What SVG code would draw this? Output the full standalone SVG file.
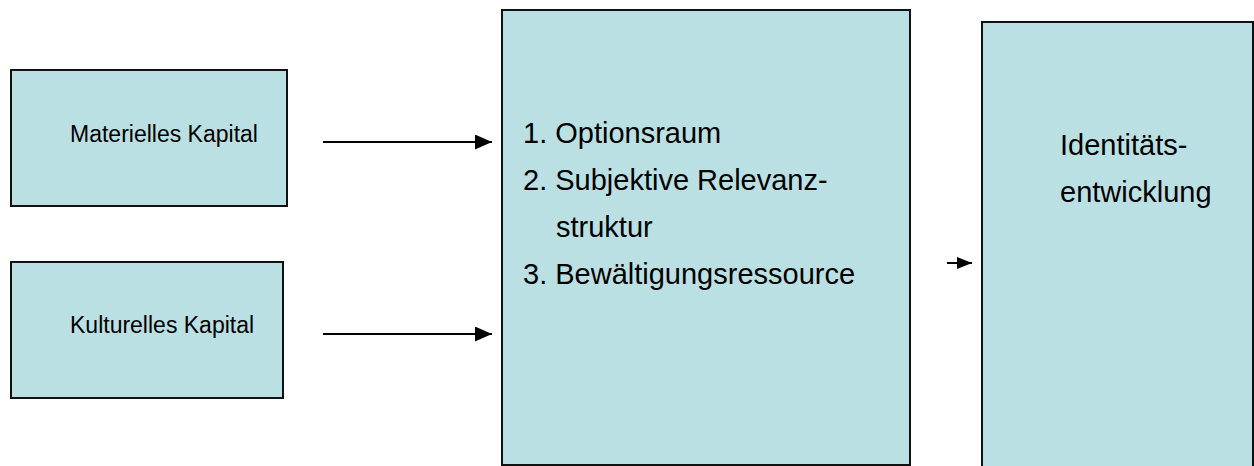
<svg xmlns="http://www.w3.org/2000/svg" width="1254" height="466" viewBox="0 0 1254 466">
  <style>
    .box { fill: #BBE0E3; stroke: #111; stroke-width: 2; }
    .t { font-family: "Liberation Sans", Arial, sans-serif; fill: #000; }
    .s { font-size: 23px; }
    .l { font-size: 29px; }
    .conn { stroke: #000; stroke-width: 2; fill: none; }
  </style>
  <defs>
    <marker id="ah" markerUnits="userSpaceOnUse" markerWidth="17" markerHeight="15" refX="17" refY="7.5" orient="auto">
      <path d="M0,0 L17,7.5 L0,15 z" fill="#000"/>
    </marker>
    <marker id="ahs" markerUnits="userSpaceOnUse" markerWidth="15" markerHeight="12" refX="15" refY="6" orient="auto">
      <path d="M0,0 L15,6 L0,12 z" fill="#000"/>
    </marker>
  </defs>
  <g id="node-materiell">
    <rect class="box" x="11" y="70" width="276" height="136"/>
    <text class="t s" x="70" y="142">Materielles Kapital</text>
  </g>
  <g id="node-kulturell">
    <rect class="box" x="11" y="262" width="272" height="136"/>
    <text class="t s" x="70" y="333">Kulturelles Kapital</text>
  </g>
  <g id="node-mitte">
    <rect class="box" x="502" y="10" width="408" height="455"/>
    <text class="t l" x="523" y="143">1. Optionsraum</text>
    <text class="t l" x="523" y="190">2. Subjektive Relevanz-</text>
    <text class="t l" x="556" y="237">struktur</text>
    <text class="t l" x="523" y="284">3. Bewältigungsressource</text>
  </g>
  <g id="node-identitaet">
    <rect class="box" x="982" y="22" width="271" height="460"/>
    <text class="t l" x="1060" y="155">Identitäts-</text>
    <text class="t l" x="1060" y="202">entwicklung</text>
  </g>
  <g id="connectors">
    <line class="conn" x1="323" y1="142" x2="492" y2="142" marker-end="url(#ah)"/>
    <line class="conn" x1="323" y1="334" x2="492" y2="334" marker-end="url(#ah)"/>
    <line class="conn" x1="947" y1="263" x2="972" y2="263" marker-end="url(#ahs)"/>
  </g>
</svg>
